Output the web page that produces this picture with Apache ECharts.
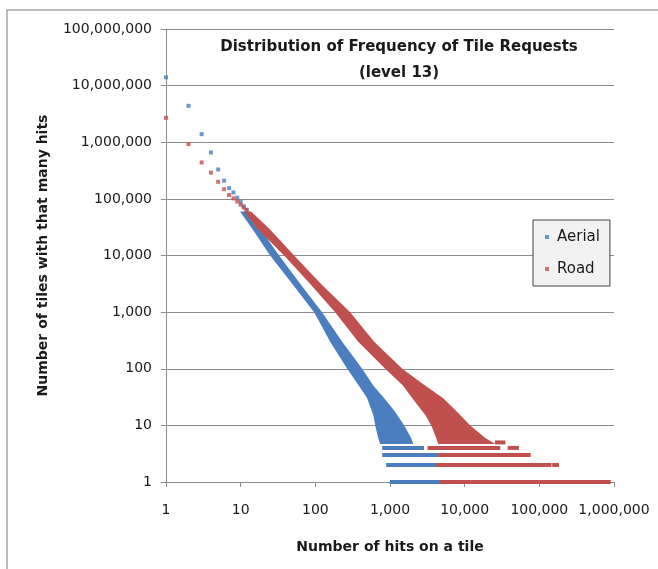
<!DOCTYPE html>
<html>
<head>
<meta charset="utf-8">
<title>Distribution of Frequency of Tile Requests</title>
<script src="https://cdn.jsdelivr.net/npm/echarts@6/dist/echarts.min.js"></script>
<style>
html, body { margin: 0; padding: 0; background: #fff; }
#container { width: 658px; height: 569px; }
</style>
</head>
<body>
<div id="container"></div>
<script>
// hits on a tile -> number of tiles with that many hits
var seriesNames = ['Aerial', 'Road'];
var colors = ['#4a7ebf', '#c0504d'];

// separate points at the top left, one per hit count
var aerialHead = [[1, 14000000], [2, 4400000], [3, 1390000], [4, 660000], [5, 330000], [6, 210000],
    [7, 155000], [8, 130000], [9, 105000], [10, 89000], [11, 74000], [12, 64000]];
var roadHead = [[1, 2700000], [2, 930000], [3, 440000], [4, 290000], [5, 200000], [6, 148000],
    [7, 117000], [8, 102000], [9, 90000], [10, 79000], [11, 70000], [12, 64000]];

// outline of the dense cloud: left edge going down, then right edge coming back up
var aerialCloud = [[9.8, 60000], [14.2, 30000], [24.8, 10000], [50.4, 3000], [96.4, 1000], [158, 300],
    [267, 100], [430, 40], [494, 30], [600, 15], [634, 10], [695, 6], [739, 4.7],
    [2050, 4.7], [1920, 6], [1550, 10], [1150, 18], [836, 30], [600, 50], [424, 100], [229, 300], [123, 1000],
    [64.5, 3000], [32.7, 10000], [18.2, 30000], [12.6, 60000]];
var roadCloud = [[11.1, 60000], [16.6, 30000], [38.2, 10000], [87.9, 3000], [184, 1000], [375, 300],
    [863, 100], [1500, 50], [1990, 30], [3000, 15], [3570, 10], [4160, 6], [4430, 4.7],
    [25700, 4.7], [18900, 6], [11900, 10], [8000, 17], [5160, 30], [2700, 55], [1460, 100], [614, 300], [293, 1000],
    [123, 3000], [52, 10000], [24, 30000], [13.8, 60000]];

// rows of tiles with very few hits: [from hits, to hits, tiles]
var aerialRows = [[836, 2680, 4], [836, 4250, 3], [946, 4430, 2], [1060, 4960, 1]];
var roadRows = [[27000, 33000, 5], [3390, 28200, 4], [40000, 50000, 4], [4710, 71900, 3],
    [4430, 113000, 2], [127000, 137000, 2], [158000, 172000, 2], [4960, 850000, 1]];

var myChart = null;
var labelFont = '"DejaVu Sans", Verdana, sans-serif';

function withCommas(v) {
    return String(Math.round(v)).replace(/\B(?=(\d{3})+(?!\d))/g, ',');
}

// draws the whole outline once, from the first data item
function cloudRenderer(edge, color) {
    return function (params, api) {
        if (params.dataIndex !== 0) return null;
        var pts = edge.map(function (p) { return api.coord(p); });
        return { type: 'polygon', shape: { points: pts }, style: { fill: color } };
    };
}

// one thin bar per row of low counts
function rowRenderer(color) {
    return function (params, api) {
        var a = api.coord([api.value(0), api.value(2)]);
        var b = api.coord([api.value(1), api.value(2)]);
        return {
            type: 'rect',
            shape: { x: a[0] - 2, y: a[1] - 2, width: b[0] - a[0] + 4, height: 4 },
            style: { fill: color }
        };
    };
}

var option = {
    animation: false,
    color: colors,
    title: {
        text: 'Distribution of Frequency of Tile Requests\n(level 13)',
        left: 399,
        top: 34,
        padding: 0,
        textAlign: 'center',
        textStyle: { fontFamily: labelFont, fontSize: 15, fontWeight: 'bold', color: '#1a1a1a', lineHeight: 26 }
    },
    graphic: [{
        type: 'rect',
        shape: { x: 7, y: 10, width: 700, height: 620 },
        style: { fill: 'none', stroke: '#a6a6a6', lineWidth: 1.5 },
        silent: true
    }],
    legend: {
        data: seriesNames,
        orient: 'vertical',
        left: 533,
        top: 220,
        padding: [8, 10, 8, 12],
        itemGap: 14,
        itemWidth: 4,
        itemHeight: 4,
        backgroundColor: '#f2f2f2',
        borderColor: '#404040',
        borderWidth: 1,
        borderRadius: 0,
        textStyle: { fontFamily: labelFont, fontSize: 15, color: '#1a1a1a', lineHeight: 18, padding: [0, 0, 0, 3] }
    },
    grid: { left: 166, right: 44, top: 29, bottom: 87 },
    xAxis: {
        type: 'log',
        logBase: 10,
        min: 1,
        max: 1000000,
        splitNumber: 6,
        name: 'Number of hits on a tile',
        nameLocation: 'middle',
        nameGap: 58,
        nameTextStyle: { fontFamily: labelFont, fontSize: 14, fontWeight: 'bold', color: '#1a1a1a' },
        axisLine: { show: true, lineStyle: { color: '#8c8c8c', width: 1 } },
        axisTick: { show: true, length: 5, lineStyle: { color: '#8c8c8c' } },
        minorTick: { show: false },
        splitLine: { show: false },
        axisLabel: { margin: 21, fontFamily: labelFont, fontSize: 14, color: '#1a1a1a', formatter: withCommas }
    },
    yAxis: {
        type: 'log',
        logBase: 10,
        min: 1,
        max: 100000000,
        splitNumber: 8,
        name: 'Number of tiles with that many hits',
        nameLocation: 'middle',
        nameGap: 116,
        nameTextStyle: { fontFamily: labelFont, fontSize: 14, fontWeight: 'bold', color: '#1a1a1a' },
        axisLine: { show: true, lineStyle: { color: '#8c8c8c', width: 1 } },
        axisTick: { show: true, length: 5, lineStyle: { color: '#8c8c8c' } },
        minorTick: { show: false },
        splitLine: { show: true, lineStyle: { color: '#8c8c8c', width: 1 } },
        axisLabel: { margin: 14, fontFamily: labelFont, fontSize: 14, color: '#1a1a1a', formatter: withCommas }
    },
    series: [
        { name: 'Aerial cloud', type: 'custom', renderItem: cloudRenderer(aerialCloud, colors[0]),
          data: aerialCloud, encode: { x: 0, y: 1 }, silent: true, z: 2 },
        { name: 'Aerial rows', type: 'custom', renderItem: rowRenderer(colors[0]),
          data: aerialRows, encode: { x: [0, 1], y: 2 }, silent: true, z: 2 },
        { name: 'Road cloud', type: 'custom', renderItem: cloudRenderer(roadCloud, colors[1]),
          data: roadCloud, encode: { x: 0, y: 1 }, silent: true, z: 3 },
        { name: 'Road rows', type: 'custom', renderItem: rowRenderer(colors[1]),
          data: roadRows, encode: { x: [0, 1], y: 2 }, silent: true, z: 3 },
        { name: 'Aerial', type: 'scatter', symbol: 'rect', symbolSize: 4, data: aerialHead,
          itemStyle: { color: colors[0] }, z: 4 },
        { name: 'Road', type: 'scatter', symbol: 'rect', symbolSize: 4, data: roadHead,
          itemStyle: { color: colors[1] }, z: 5 }
    ]
};

myChart = echarts.init(document.getElementById('container'));
myChart.setOption(option);
</script>
</body>
</html>
